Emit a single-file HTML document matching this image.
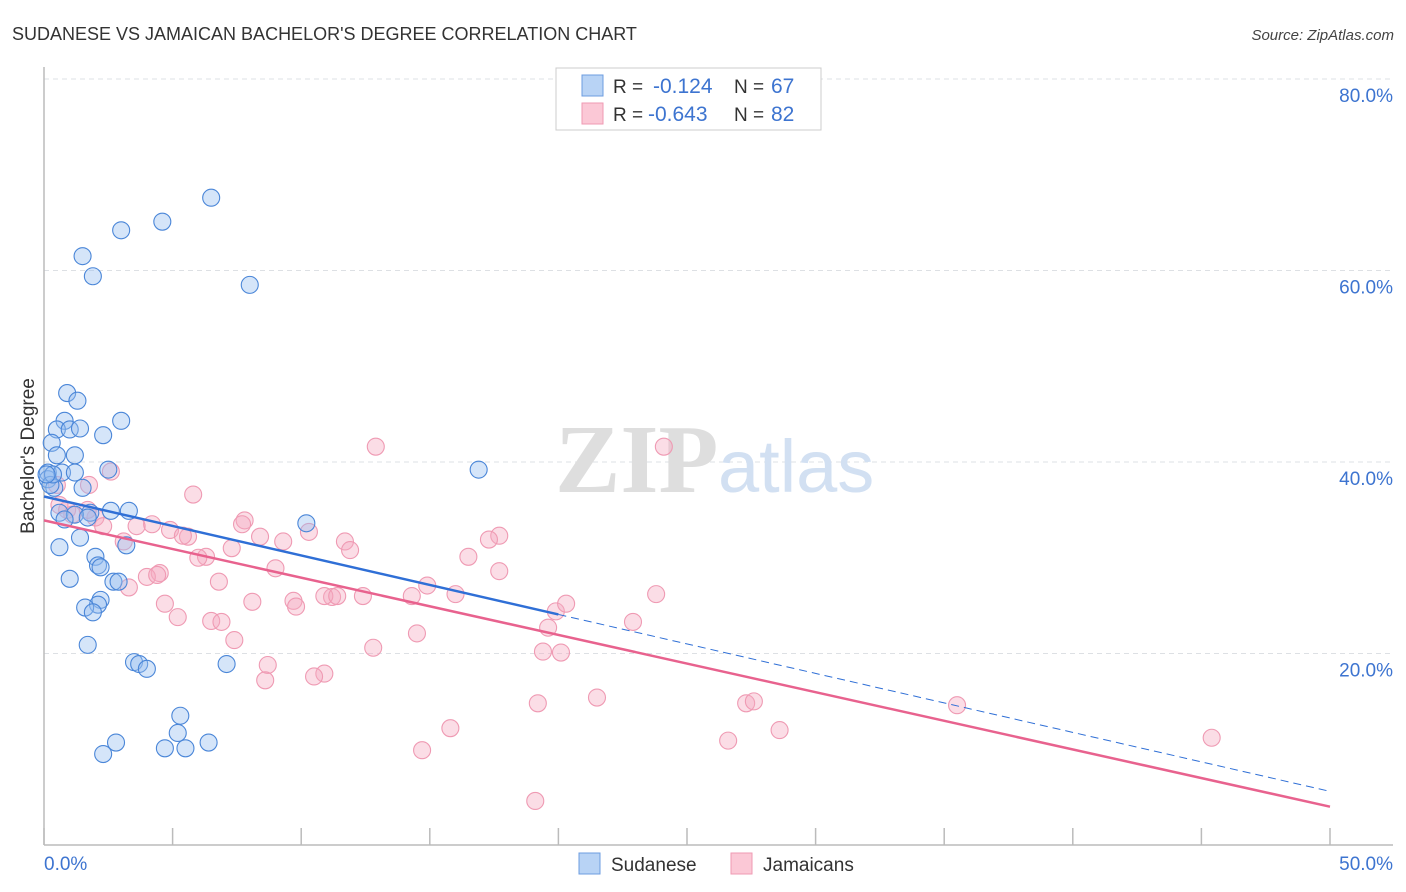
<!DOCTYPE html>
<html><head><meta charset="utf-8">
<style>
body{margin:0;background:#fff;font-family:"Liberation Sans",sans-serif;}
#c{position:relative;width:1406px;height:892px;overflow:hidden}
</style></head>
<body>
<div id="c">
<svg id="s" width="1406" height="892" xmlns="http://www.w3.org/2000/svg"></svg>
</div>
<script>
const blueX=[6.5,4.6,3.0,1.5,1.9,8.0,0.9,1.3,0.8,3.0,0.5,1.0,1.4,2.3,0.3,0.5,1.2,0.15,0.7,1.2,2.5,0.15,0.4,1.5,0.25,2.6,3.3,0.6,1.8,1.2,1.7,0.8,10.2,1.4,3.2,0.6,2.0,2.1,2.2,1.0,2.7,2.9,2.2,2.1,1.6,1.9,16.9,1.7,3.5,3.7,4.0,7.1,5.3,5.2,2.8,6.4,4.7,5.5,2.3,0.35,0.1];
const blueY=[67.6,65.1,64.2,61.5,59.4,58.5,47.2,46.4,44.3,44.3,43.4,43.4,43.5,42.8,42.0,40.7,40.7,38.9,38.9,38.9,39.2,38.2,37.3,37.3,37.6,34.9,34.9,34.7,34.7,34.5,34.2,34.0,33.6,32.1,31.3,31.1,30.1,29.2,29.0,27.8,27.5,27.5,25.6,25.1,24.8,24.3,39.2,20.9,19.1,18.9,18.4,18.9,13.5,11.7,10.7,10.7,10.1,10.1,9.5,38.7,38.7];
const pinkX=[12.9,24.1,2.6,0.5,1.75,5.8,0.6,0.9,1.1,2.0,7.8,7.7,4.2,4.9,17.7,2.3,3.6,10.3,3.1,5.6,5.4,8.4,9.3,11.7,11.9,7.3,6.3,6.0,16.5,17.3,9.0,4.5,4.0,4.4,6.8,14.9,17.7,16.0,11.2,10.9,11.4,12.4,14.3,3.3,4.7,8.1,9.7,9.8,5.2,6.5,6.9,19.9,20.3,19.6,22.9,23.8,14.5,7.4,12.8,19.4,20.1,8.7,10.9,10.5,8.6,21.5,19.2,27.3,27.6,35.5,15.8,28.6,26.6,45.4,14.7,19.1,1.7];
const pinkY=[41.6,41.6,39.0,37.6,37.6,36.6,35.5,35.0,34.5,34.2,33.9,33.5,33.5,32.9,32.3,33.3,33.3,32.7,31.7,32.2,32.3,32.2,31.7,31.7,30.8,31.0,30.1,30.0,30.1,31.9,28.9,28.4,28.0,28.2,27.5,27.1,28.6,26.2,25.9,26.0,26.0,26.0,26.0,26.9,25.2,25.4,25.5,24.9,23.8,23.4,23.3,24.4,25.2,22.7,23.3,26.2,22.1,21.4,20.6,20.2,20.1,18.8,17.9,17.6,17.2,15.4,14.8,14.8,15.0,14.6,12.2,12.0,10.9,11.2,9.9,4.6,35.0];
const xTicks=[0,5,10,15,20,25,30,35,40,45,50];
const yTicks=[20,40,60,80];
const blueLine=[36.4,5.6], pinkLine=[33.9,4.0];

const S=document.getElementById('s'),NS='http://www.w3.org/2000/svg';
const X=v=>44+v*25.72, Y=v=>845-v*9.575;
function mk(t,a,p){const e=document.createElementNS(NS,t);for(const k in a)e.setAttribute(k,a[k]);(p||S).appendChild(e);return e;}
function tx(x,y,str,a){const e=mk('text',Object.assign({x:x,y:y},a));e.textContent=str;return e;}

yTicks.forEach(v=>{const g=mk('line',{x1:44,x2:1393,y1:Y(v),y2:Y(v),stroke:'#dde0e4','stroke-dasharray':'5,4','stroke-width':1});


const l=tx(1393,Y(v)+23,v.toFixed(1)+'%',{fill:'#3d74d0','font-size':19,'text-anchor':'end'});

});
const ax=mk('line',{x1:44,x2:44,y1:67,y2:845,stroke:'#bbb','stroke-width':1.5});


const bx=mk('line',{x1:44,x2:1393,y1:845,y2:845,stroke:'#bbb','stroke-width':1.5});


xTicks.forEach(v=>{const t=mk('line',{x1:X(v),x2:X(v),y1:828,y2:845,stroke:'#bbb','stroke-width':1.5});

});
let l0=tx(44,870,'0.0%',{fill:'#3d74d0','font-size':19});
let l1=tx(1393,870,'50.0%',{fill:'#3d74d0','font-size':19,'text-anchor':'end'});

let w=tx(555,492,'ZIP',{fill:'#dedede','font-size':98,'font-family':'Liberation Serif, serif','font-weight':'bold'});
let w2=tx(718,492,'atlas',{fill:'#d2e0f2','font-size':74});

pinkX.forEach((v,i)=>{const c=mk('circle',{cx:X(v),cy:Y(pinkY[i]),r:8.5,fill:'rgba(246,170,192,0.4)',stroke:'#ef9ab3','stroke-width':1.1});

});
blueX.forEach((v,i)=>{const c=mk('circle',{cx:X(v),cy:Y(blueY[i]),r:8.5,fill:'rgba(150,190,240,0.4)',stroke:'#4a86d8','stroke-width':1.1});

});

const by=x=>blueLine[0]+(blueLine[1]-blueLine[0])*x/50;
const py=x=>pinkLine[0]+(pinkLine[1]-pinkLine[0])*x/50;
let tl=mk('line',{x1:X(0),y1:Y(py(0)),x2:X(50),y2:Y(py(50)),stroke:'#e8628e','stroke-width':2.5});

let tb=mk('line',{x1:X(0),y1:Y(by(0)),x2:X(20),y2:Y(by(20)),stroke:'#2f6fd6','stroke-width':2.5});

let td=mk('line',{x1:X(20),y1:Y(by(20)),x2:X(50),y2:Y(by(50)),stroke:'#2f6fd6','stroke-width':1,'stroke-dasharray':'8,5'});


const lg=mk('g',{});
mk('rect',{x:556,y:68,width:265,height:62,fill:'#fff',stroke:'#ccc'},lg);
mk('rect',{x:582,y:75,width:21,height:21,fill:'#b8d3f5',stroke:'#6c9de0'},lg);
mk('rect',{x:582,y:103,width:21,height:21,fill:'#fbc8d6',stroke:'#ef9ab3'},lg);
[['R = ','-0.124','67',93],['R = ','-0.643','82',121]].forEach(r=>{
 tx(613,r[3],r[0],{fill:'#333','font-size':19},lg);
 tx(r[1]==='-0.124'?653:648,r[3],r[1],{fill:'#3d74d0','font-size':21},lg);
 tx(734,r[3],'N = ',{fill:'#333','font-size':19},lg);
 tx(771,r[3],r[2],{fill:'#3d74d0','font-size':21},lg);
});

const bl=mk('g',{});
mk('rect',{x:579,y:853,width:21,height:21,fill:'#b8d3f5',stroke:'#6c9de0'},bl);
tx(611,871,'Sudanese',{fill:'#333','font-size':19},bl);
mk('rect',{x:731,y:853,width:21,height:21,fill:'#fbc8d6',stroke:'#ef9ab3'},bl);
tx(763,871,'Jamaicans',{fill:'#333','font-size':19},bl);

let t=tx(12,40,"SUDANESE VS JAMAICAN BACHELOR'S DEGREE CORRELATION CHART",{fill:'#333','font-size':18});

let so=tx(1394,40,'Source: ZipAtlas.com',{fill:'#444','font-size':15,'font-style':'italic','text-anchor':'end'});

let yt=tx(0,0,"Bachelor's Degree",{fill:'#333','font-size':19,'text-anchor':'middle',transform:'translate(34,456) rotate(-90)'});

</script>
</body></html>
